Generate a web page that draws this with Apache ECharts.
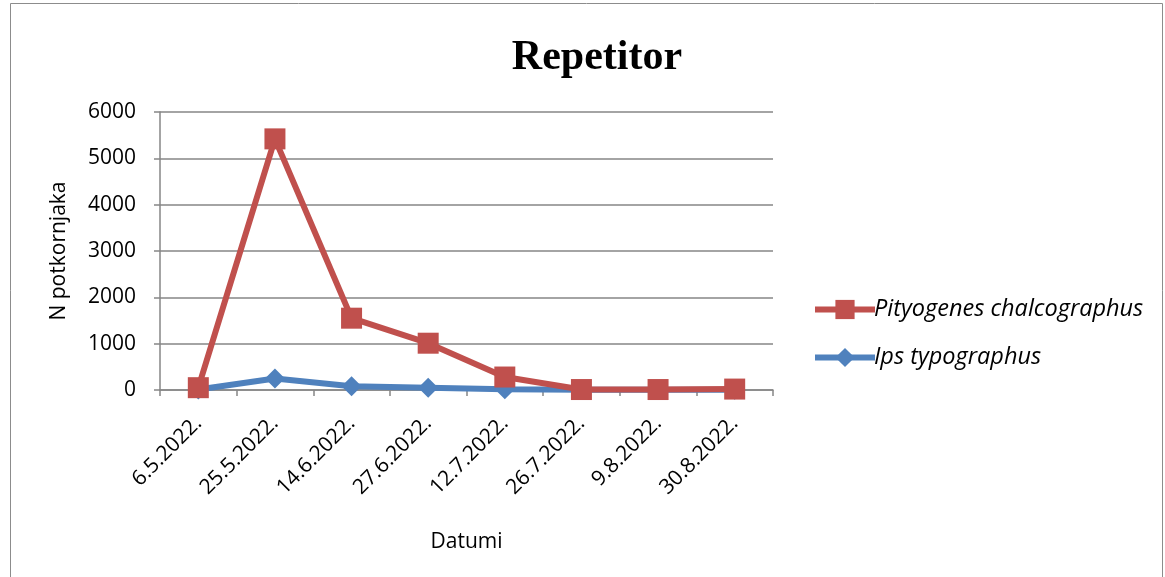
<!DOCTYPE html>
<html>
<head>
<meta charset="utf-8">
<script src="https://cdn.jsdelivr.net/npm/echarts@6/dist/echarts.min.js"></script>
<style>
  html, body { margin: 0; padding: 0; background: #fff; }
  #chart { width: 1165px; height: 577px; }
</style>
</head>
<body>
<div id="chart"></div>
<script>
// datumi uzorkovanja
const dates = ['6.5.2022.', '25.5.2022.', '14.6.2022.', '27.6.2022.', '12.7.2022.', '26.7.2022.', '9.8.2022.', '30.8.2022.']
// broj potkornjaka po vrsti
const pityogenes = [50, 5420, 1550, 1010, 280, 10, 10, 20]
const ipsTypographus = [10, 250, 80, 50, 15, 5, 5, 5]
const yTicks = { min: 0, max: 6000, interval: 1000 }

const chart = echarts.init(document.getElementById('chart'))

const gray = '#868686'
const red = '#C0504D'
const blue = '#4F81BD'

const option = {
  backgroundColor: '#fff',
  animation: false,
  graphic: [{
    type: 'rect',
    shape: { x: 10.5, y: 3.5, width: 1152, height: 580 },
    style: { fill: 'none', stroke: '#8c8c8c', lineWidth: 1 }
  }],
  title: {
    text: 'Repetitor',
    left: 592,
    top: 32,
    textAlign: 'center',
    textStyle: { fontFamily: 'Liberation Serif', fontWeight: 'bold', fontSize: 42, color: '#000' }
  },
  legend: {
    orient: 'vertical',
    left: 807,
    top: 293,
    padding: 5,
    itemGap: 25,
    itemWidth: 60,
    itemHeight: 24,
    data: [
      { name: 'Pityogenes chalcographus', itemStyle: { color: red }, lineStyle: { color: red, width: 6 } },
      { name: 'Ips typographus', itemStyle: { color: blue }, lineStyle: { color: blue, width: 6 } }
    ],
    textStyle: { fontFamily: 'Open Sans', fontStyle: 'italic', fontSize: 23.5, color: '#000', padding: [0, 0, 0, -6] }
  },
  grid: { left: 160, right: 392, top: 112, bottom: 187 },
  xAxis: {
    type: 'category',
    data: dates,
    boundaryGap: true,
    name: 'Datumi',
    nameLocation: 'middle',
    nameGap: 142,
    nameTextStyle: { fontFamily: 'Open Sans', fontSize: 21, color: '#000' },
    axisLine: { lineStyle: { color: gray, width: 1.5 } },
    axisTick: { show: true, length: 6, lineStyle: { color: gray, width: 1.5 } },
    axisLabel: {
      rotate: 45,
      margin: 30,
      fontFamily: 'Open Sans',
      fontSize: 21,
      color: '#000'
    }
  },
  yAxis: {
    type: 'value',
    min: yTicks.min,
    max: yTicks.max,
    interval: yTicks.interval,
    name: 'N potkornjaka',
    nameLocation: 'middle',
    nameGap: 90,
    nameTextStyle: { fontFamily: 'Open Sans', fontSize: 21, color: '#000' },
    axisLine: { show: true, lineStyle: { color: gray, width: 1.5 } },
    axisTick: { show: true, length: 6, lineStyle: { color: gray, width: 1.5 } },
    axisLabel: { margin: 24, fontFamily: 'Open Sans', fontSize: 21, color: '#000', formatter: v => String(v) },
    splitLine: { lineStyle: { color: gray, width: 1.5 } }
  },
  series: [
    {
      name: 'Ips typographus',
      type: 'line',
      data: ipsTypographus,
      symbol: 'diamond',
      symbolSize: 20,
      lineStyle: { color: blue, width: 6 },
      itemStyle: { color: blue },
      z: 2
    },
    {
      name: 'Pityogenes chalcographus',
      type: 'line',
      data: pityogenes,
      symbol: 'rect',
      symbolSize: 21,
      lineStyle: { color: red, width: 6 },
      itemStyle: { color: red },
      z: 3
    }
  ]
}

chart.setOption(option)
</script>
</body>
</html>
